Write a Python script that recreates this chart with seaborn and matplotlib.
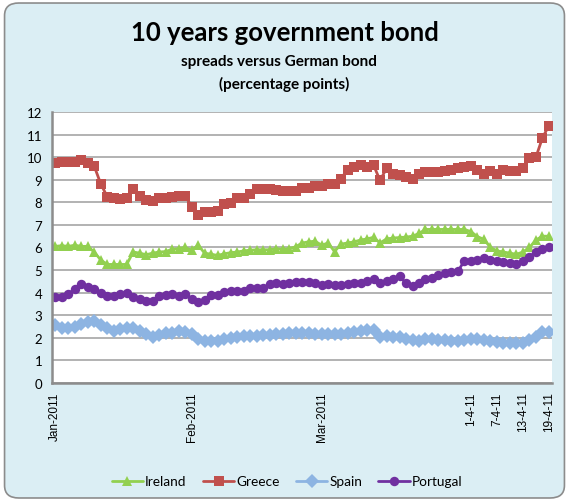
import pandas as pd
import matplotlib.pyplot as plt
import seaborn as sns
from matplotlib.patches import FancyBboxPatch

# business days 3 Jan 2011 .. 19 Apr 2011 (77 points)
dates = pd.bdate_range("2011-01-03", "2011-04-19")

greece = [9.75, 9.78, 9.80, 9.78, 9.88, 9.72, 9.60, 8.82, 8.25, 8.20,
          8.15, 8.20, 8.60, 8.30, 8.10, 8.05, 8.18, 8.18, 8.24, 8.28,
          8.30, 7.80, 7.42, 7.56, 7.58, 7.62, 7.94, 7.98, 8.17, 8.20,
          8.35, 8.58, 8.58, 8.58, 8.56, 8.50, 8.50, 8.52, 8.62, 8.65,
          8.70, 8.70, 8.80, 8.80, 9.05, 9.45, 9.55, 9.65, 9.55, 9.65,
          8.97, 9.50, 9.25, 9.20, 9.10, 9.05, 9.25, 9.33, 9.35, 9.35,
          9.38, 9.45, 9.50, 9.58, 9.60, 9.45, 9.27, 9.37, 9.27, 9.45,
          9.40, 9.40, 9.50, 9.95, 10.00, 10.85, 11.40]
ireland = [6.05, 6.08, 6.05, 6.10, 6.05, 6.05, 5.80, 5.45, 5.25, 5.25,
           5.25, 5.25, 5.80, 5.75, 5.68, 5.75, 5.80, 5.82, 5.92, 5.95,
           6.00, 5.88, 6.10, 5.75, 5.70, 5.65, 5.72, 5.77, 5.80, 5.85,
           5.88, 5.90, 5.90, 5.90, 5.95, 5.92, 5.95, 6.03, 6.20, 6.25,
           6.28, 6.10, 6.20, 5.82, 6.15, 6.20, 6.25, 6.33, 6.38, 6.45,
           6.20, 6.38, 6.42, 6.44, 6.46, 6.50, 6.62, 6.80, 6.80, 6.80,
           6.80, 6.80, 6.80, 6.80, 6.70, 6.48, 6.36, 6.00, 5.85, 5.80,
           5.75, 5.70, 5.80, 6.00, 6.33, 6.50, 6.50]
spain = [2.55, 2.45, 2.42, 2.47, 2.60, 2.70, 2.75, 2.57, 2.42, 2.30,
         2.40, 2.45, 2.42, 2.30, 2.15, 2.02, 2.12, 2.20, 2.23, 2.30,
         2.28, 2.15, 1.97, 1.87, 1.88, 1.87, 1.94, 1.98, 2.03, 2.08,
         2.10, 2.10, 2.12, 2.12, 2.15, 2.17, 2.20, 2.20, 2.20, 2.20,
         2.18, 2.17, 2.17, 2.15, 2.15, 2.20, 2.28, 2.30, 2.33, 2.33,
         2.05, 2.10, 2.05, 2.03, 1.97, 1.92, 1.88, 1.95, 1.97, 1.90,
         1.90, 1.88, 1.88, 1.92, 1.93, 1.93, 1.92, 1.88, 1.80, 1.78,
         1.76, 1.75, 1.76, 1.92, 2.05, 2.25, 2.25]
portugal = [3.80, 3.80, 3.95, 4.15, 4.40, 4.25, 4.15, 4.00, 3.87, 3.87,
            3.93, 4.00, 3.80, 3.73, 3.65, 3.65, 3.85, 3.90, 3.93, 3.85,
            3.93, 3.73, 3.60, 3.66, 3.90, 3.90, 4.03, 4.07, 4.08, 4.08,
            4.20, 4.20, 4.22, 4.37, 4.42, 4.40, 4.43, 4.48, 4.48, 4.47,
            4.43, 4.33, 4.38, 4.36, 4.33, 4.38, 4.42, 4.45, 4.50, 4.62,
            4.42, 4.50, 4.60, 4.72, 4.42, 4.30, 4.44, 4.59, 4.66, 4.78,
            4.88, 4.93, 4.95, 5.42, 5.38, 5.43, 5.55, 5.43, 5.40, 5.36,
            5.33, 5.27, 5.40, 5.60, 5.80, 5.95, 6.00]

countries = ["Ireland", "Greece", "Spain", "Portugal"]
tick_pos = [0, 21, 41, 64, 68, 72, 76]
tick_labels = ["Jan-2011", "Feb-2011", "Mar-2011", "1-4-11", "7-4-11", "13-4-11", "19-4-11"]

colors = {"Ireland": "#92D050", "Greece": "#C0504D", "Spain": "#8DB4E2", "Portugal": "#7030A0"}
markers = {"Ireland": "^", "Greece": "s", "Spain": "D", "Portugal": "o"}

rows = []
for name, vals in zip(countries, [ireland, greece, spain, portugal]):
    for i, v in enumerate(vals):
        rows.append({"pos": i, "date": dates[i], "country": name, "spread": v})
df = pd.DataFrame(rows)

sns.set_style("white")
plt.rcParams["font.family"] = ["Lato", "DejaVu Sans"]
plt.rcParams["text.color"] = "black"
plt.rcParams["xtick.color"] = "black"
plt.rcParams["ytick.color"] = "black"

bg = "#DBEEF4"
fig = plt.figure(figsize=(5.69, 5.02), dpi=100)
fig.patch.set_facecolor("white")
box = FancyBboxPatch((0.008, 0.006), 0.984, 0.986, boxstyle="round,pad=0,rounding_size=0.025",
                     transform=fig.transFigure, facecolor=bg, edgecolor="#8C8C8C",
                     linewidth=1.2, zorder=-10)
fig.patches.append(box)

ax = fig.add_axes([0.0914, 0.235, 0.879, 0.54])
ax.set_facecolor("white")

sns.lineplot(data=df, x="pos", y="spread", hue="country", style="country",
             hue_order=countries, style_order=countries, palette=colors,
             markers=markers, dashes=False, linewidth=2.0, markersize=6.8,
             markeredgewidth=0, ax=ax)

ax.set_xlim(-0.5, 76.5)
ax.set_ylim(0, 12)
ax.set_yticks(range(0, 13))
ax.yaxis.grid(True, color="#A6A6A6", linewidth=1.2)
ax.set_axisbelow(True)
ax.set_xticks(tick_pos)
ax.set_xticklabels(tick_labels, rotation=90, fontsize=8.5, family="Liberation Sans")
ax.tick_params(axis="x", length=0, pad=6)
ax.tick_params(axis="y", length=0, pad=7, labelsize=9.5)
ax.set_xlabel("")
ax.set_ylabel("")
for s in ["top", "right"]:
    ax.spines[s].set_visible(False)
for s in ["left", "bottom"]:
    ax.spines[s].set_color("#8C8C8C")
    ax.spines[s].set_linewidth(1.8)

handles, labels = ax.get_legend_handles_labels()
ax.legend(handles, labels, loc="center", bbox_to_anchor=(0.47, -0.363), ncol=4,
          frameon=False, fontsize=9.8, handlelength=2.3, handletextpad=0.15, columnspacing=1.2)

fig.text(0.5, 0.935, "10 years government bond", ha="center", va="center",
         fontsize=18.5, fontweight="bold")
fig.text(0.49, 0.876, "spreads versus German bond", ha="center", va="center",
         fontsize=11, fontweight="bold")
fig.text(0.5, 0.832, "(percentage points)", ha="center", va="center",
         fontsize=11, fontweight="bold")

fig.savefig("out.png", dpi=100)
